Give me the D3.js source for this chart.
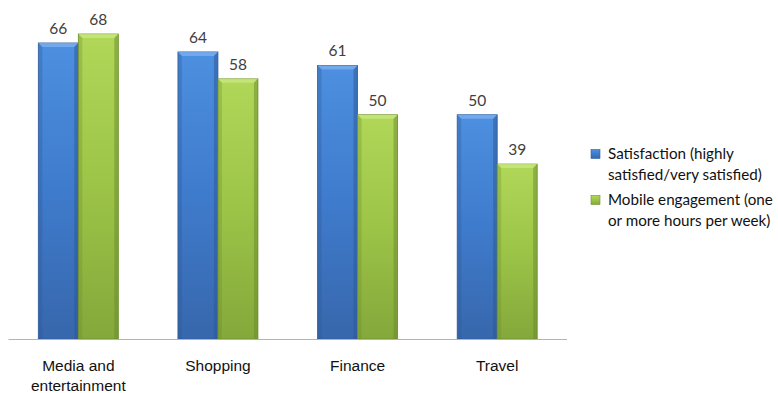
<!DOCTYPE html>
<html><head><meta charset="utf-8">
<script src="https://cdn.jsdelivr.net/npm/d3@7"></script>
<style>body{margin:0;background:#fff;} svg{display:block;font-family:Lato, "Open Sans", sans-serif;}</style>
</head><body>
<svg id="c" width="778" height="393"></svg>
<script>
const categories = ["Media and entertainment", "Shopping", "Finance", "Travel"];
const categoryLines = [["Media and", "entertainment"], ["Shopping"], ["Finance"], ["Travel"]];
const seriesNames = ["Satisfaction (highly satisfied/very satisfied)", "Mobile engagement (one or more hours per week)"];
const legendLines = [["Satisfaction (highly", "satisfied/very satisfied)"], ["Mobile engagement (one", "or more hours per week)"]];
const satisfaction = [66, 64, 61, 50];
const engagement = [68, 58, 50, 39];

const svg = d3.select("#c");
const defs = svg.append("defs");
const palettes = [
  {id: "gb", top: "#4d8fe0", mid: "#3f7bcc", bot: "#3767ac", light: "#7fb2f0", dark: "#2c5593", stroke: "#335f9e"},
  {id: "gg", top: "#b0d758", mid: "#9cc447", bot: "#84a83b", light: "#c9e883", dark: "#6a8a2c", stroke: "#6f8f30"}
];
palettes.forEach(p => {
  const g = defs.append("linearGradient").attr("id", p.id).attr("x1", 0).attr("y1", 0).attr("x2", 0).attr("y2", 1);
  g.append("stop").attr("offset", "0%").attr("stop-color", p.top);
  g.append("stop").attr("offset", "50%").attr("stop-color", p.mid);
  g.append("stop").attr("offset", "100%").attr("stop-color", p.bot);
});

const x = d3.scaleBand().domain(categories).range([8.5, 567]).padding(0);
const y = d3.scaleLinear().domain([0, 68]).range([339, 34]);
const barW = 40;
const xs = d3.scaleBand().domain([0, 1]).range([-barW, barW]).padding(0);

const series = [satisfaction, engagement];
const bev = 4;
series.forEach((vals, si) => {
  const p = palettes[si];
  categories.forEach((c, ci) => {
    const cx = x(c) + x.bandwidth() / 2;
    const x0 = cx + xs(si), w = xs.bandwidth();
    const y0 = y(vals[ci]), h = y(0) - y0;
    const g = svg.append("g");
    g.append("rect").attr("x", x0).attr("y", y0).attr("width", w).attr("height", h)
      .attr("fill", `url(#${p.id})`).attr("stroke", p.stroke).attr("stroke-width", 0.8);
    g.append("path").attr("d", `M${x0},${y0}L${x0+w},${y0}L${x0+w-bev},${y0+bev}L${x0+bev},${y0+bev}Z`)
      .attr("fill", p.light).attr("opacity", 0.75);
    g.append("path").attr("d", `M${x0},${y0}L${x0+bev},${y0+bev}L${x0+bev},${y0+h}L${x0},${y0+h}Z`)
      .attr("fill", p.dark).attr("opacity", 0.3);
    g.append("path").attr("d", `M${x0+w},${y0}L${x0+w-bev},${y0+bev}L${x0+w-bev},${y0+h}L${x0+w},${y0+h}Z`)
      .attr("fill", p.dark).attr("opacity", 0.5);
    svg.append("text").attr("x", x0 + w / 2).attr("y", y0 - 9)
      .attr("text-anchor", "middle").attr("font-size", 15.5).attr("fill", "#404040").text(vals[ci]);
  });
});

svg.append("line").attr("x1", 8.5).attr("x2", 567).attr("y1", 339.5).attr("y2", 339.5)
  .attr("stroke", "#b4b4b4").attr("stroke-width", 1);

const ax = svg.append("g").attr("transform", "translate(0,339.5)")
  .call(d3.axisBottom(x).tickSize(0).tickFormat(""));
ax.select(".domain").remove();
ax.selectAll(".tick").each(function(d, i) {
  const t = d3.select(this).append("text").attr("text-anchor", "middle")
    .attr("font-size", 15.5).attr("fill", "#111");
  categoryLines[i].forEach((ln, li) => {
    t.append("tspan").attr("x", 0).attr("y", 31 + li * 20).text(ln);
  });
});

const legY = [154, 200];
seriesNames.forEach((n, i) => {
  const p = palettes[i];
  const lg = svg.append("g").attr("transform", `translate(591,${legY[i]})`);
  lg.append("rect").attr("x", 0).attr("y", -4.5).attr("width", 9).attr("height", 9)
    .attr("fill", `url(#${p.id})`).attr("stroke", p.stroke).attr("stroke-width", 0.6);
  const t = lg.append("text").attr("font-size", 15.2).attr("fill", "#111");
  legendLines[i].forEach((ln, li) => {
    t.append("tspan").attr("x", 17).attr("y", 5 + li * 21).text(ln);
  });
});
</script>
</body></html>
